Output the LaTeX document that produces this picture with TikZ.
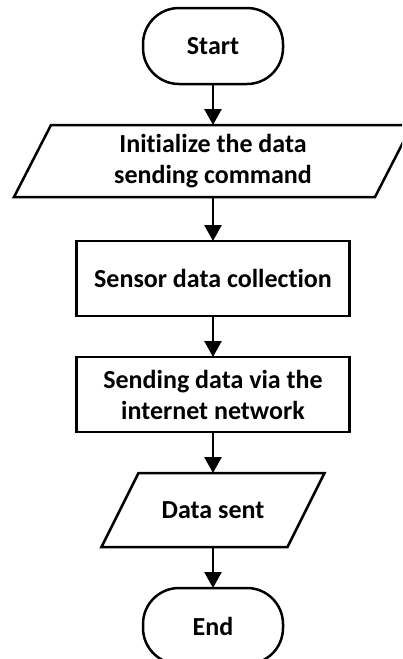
\documentclass[tikz,border=0pt]{standalone}
\usepackage{fontspec}
\setmainfont[Ligatures=NoCommon]{Carlito}
\usetikzlibrary{arrows.meta}
\begin{document}
\begin{tikzpicture}[x=1pt,y=-1pt,
  every node/.style={font=\fontsize{26}{31}\selectfont\bfseries, align=center, outer sep=0pt, inner sep=0pt},
  term/.style={draw, line width=2.5pt, minimum width=140pt, minimum height=76pt, rounded corners=36pt},
  procbox/.style={draw, line width=2.5pt, minimum width=273pt, minimum height=75pt},
  iobox/.style={minimum height=#1},
  para/.style={line width=2.5pt, line join=miter},
  flow/.style={line width=2.5pt, -{Triangle[width=17pt,length=16pt]}}
]
\clip (0,0) rectangle (402,659);
\fill[white] (0,0) rectangle (402,659);

\node[term] (start) at (213,46) {Start};

\node[iobox=72pt, minimum width=361pt] (init) at (213,161) {Initialize the data\\sending command};
\draw[para] ([xshift=18.5pt]init.north west) -- ([xshift=18.5pt]init.north east)
  -- ([xshift=-18.5pt]init.south east) -- ([xshift=-18.5pt]init.south west) -- cycle;

\node[procbox] (collect) at (213,278.5) {Sensor data collection};
\node[procbox] (send) at (213,394.5) {Sending data via the\\internet network};

\node[iobox=74pt, minimum width=186pt] (sent) at (213,510) {Data sent};
\draw[para] ([xshift=18.5pt]sent.north west) -- ([xshift=18.5pt]sent.north east)
  -- ([xshift=-18.5pt]sent.south east) -- ([xshift=-18.5pt]sent.south west) -- cycle;

\node[term] (end) at (213,626) {End};

\draw[flow] (start) -- (init);
\draw[flow] (init) -- (collect);
\draw[flow] (collect) -- (send);
\draw[flow] (send) -- (sent);
\draw[flow] (sent) -- (end);
\end{tikzpicture}
\end{document}
